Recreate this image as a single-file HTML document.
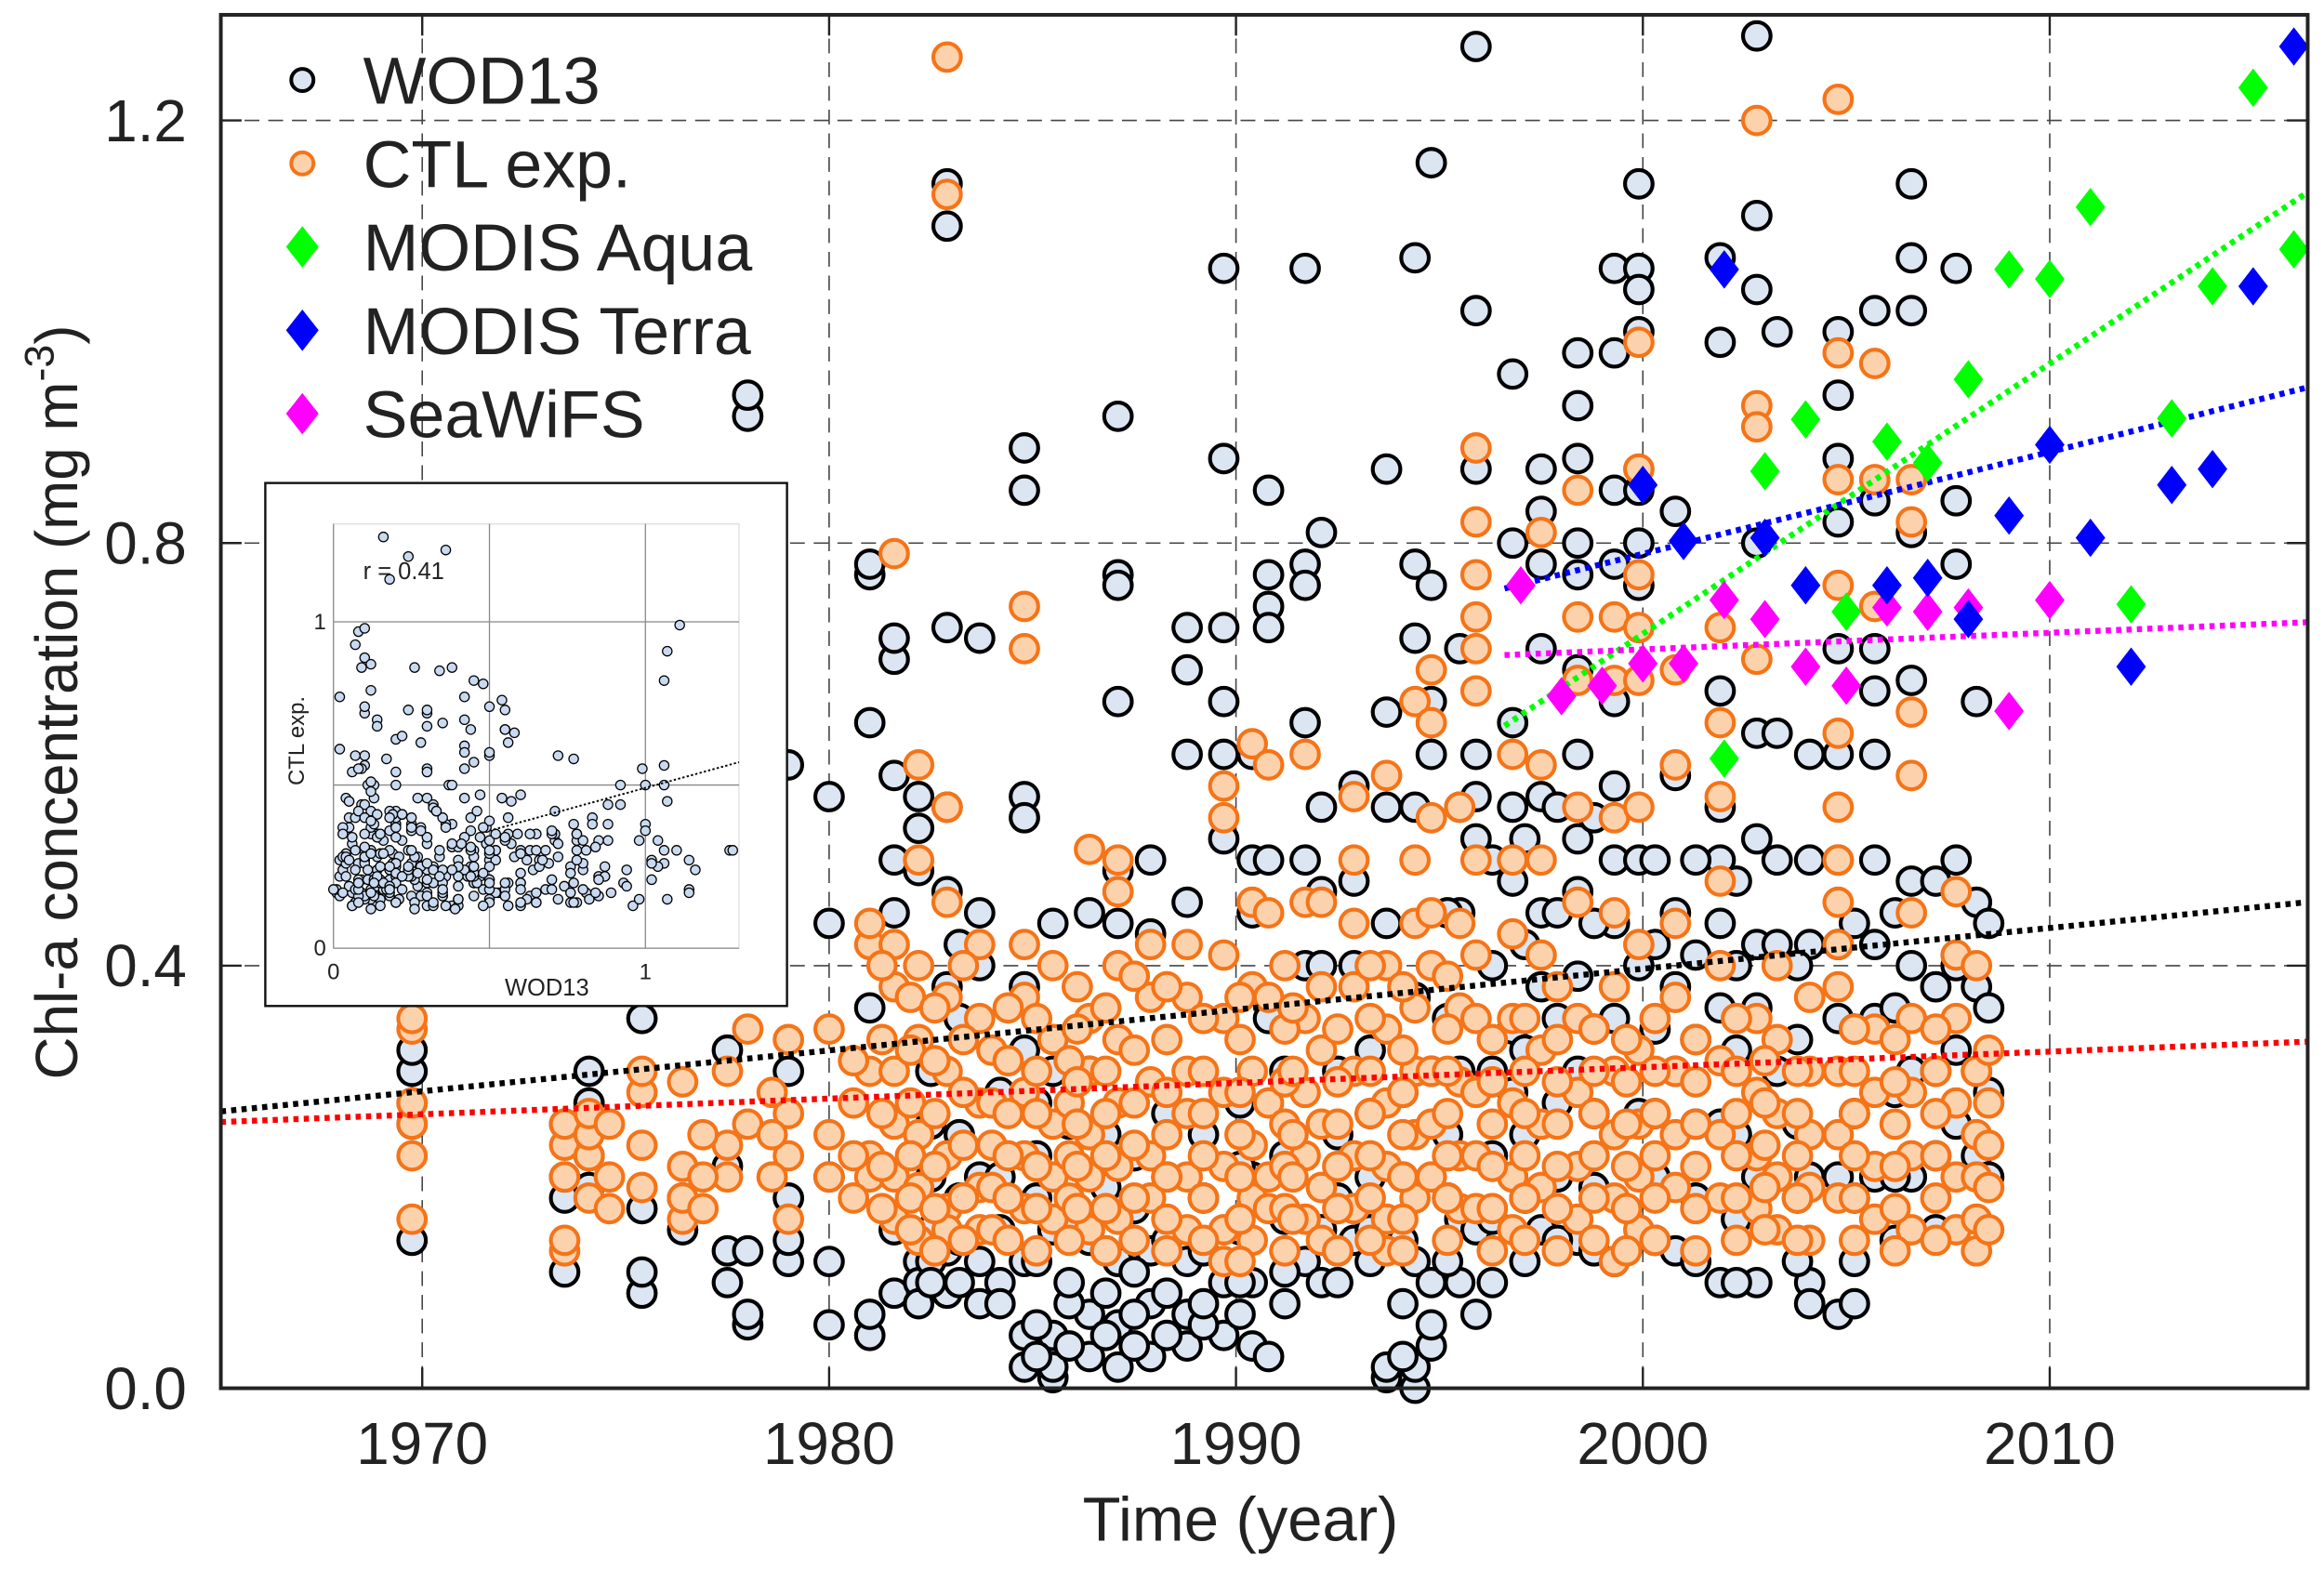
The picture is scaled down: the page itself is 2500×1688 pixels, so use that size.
<!DOCTYPE html>
<html><head><meta charset="utf-8"><style>
html,body{margin:0;padding:0;background:#fff}
svg{display:block}
text{font-family:"Liberation Sans",Arial,sans-serif;fill:#222}
</style></head><body>
<svg id="chart" width="2500" height="1688" viewBox="0 0 1568 1059" preserveAspectRatio="none" xmlns="http://www.w3.org/2000/svg">
<rect x="0" y="0" width="1568" height="1059" fill="#fff"/>
<g id="grid"></g>
<g id="marks"></g>
<g id="axes"></g>
<g id="legend"></g>
<g id="inset"></g>
</svg>
<script>
// ---------- data ----------
const xTicks = [1970, 1980, 1990, 2000, 2010];
const yTicks = [0.0, 0.4, 0.8, 1.2];
const yTickLabels = ["0.0", "0.4", "0.8", "1.2"];
// WOD13 observations: [year, values...]
const wodData = [
[1969.75,0.14,0.27,0.3,0.32,0.25],
[1973.5,0.11,0.18,0.2,0.25],
[1974.1,0.19,0.22,0.27,0.3],
[1975.4,0.09,0.11,0.17,0.35,0.38],
[1976.4,0.15,0.18],
[1977.5,0.1,0.13,0.21,0.32],
[1978.0,0.92,0.94,0.06,0.07,0.13],
[1979.0,0.59,0.12,0.14,0.18,0.3],
[1980.0,0.56,0.44,0.06,0.12,0.2],
[1981.0,0.77,0.78,0.63,0.36,0.05,0.07],
[1981.6,0.69,0.71,0.58,0.5,0.45,0.15,0.09],
[1982.2,0.56,0.53,0.49,0.12,0.1,0.08],
[1982.9,1.14,1.1,0.72,0.55,0.47,0.38,0.13,0.09],
[1983.7,0.71,0.45,0.4,0.2,0.12,0.08],
[1984.8,0.85,0.89,0.56,0.54,0.38,0.32,0.12,0.05,0.02],
[1985.5,0.44,0.3,0.15,0.05,0.01,0.02],
[1986.4,0.45,0.3,0.14,0.07,0.03],
[1987.1,0.92,0.77,0.76,0.65,0.49,0.44,0.12,0.06,0.02],
[1987.9,0.5,0.43,0.13,0.08,0.03],
[1988.8,0.72,0.68,0.6,0.46,0.12,0.07,0.04],
[1989.7,1.06,0.88,0.72,0.65,0.6,0.52,0.1,0.05],
[1990.4,0.6,0.5,0.45,0.2,0.1,0.04],
[1990.8,0.85,0.77,0.74,0.72,0.5,0.35,0.03],
[1991.7,1.06,0.78,0.76,0.63,0.5,0.4,0.12],
[1992.1,0.81,0.55,0.47,0.4,0.15,0.1],
[1992.9,0.57,0.48,0.4,0.14],
[1993.7,0.87,0.64,0.55,0.44,0.01,0.02],
[1994.4,1.07,0.78,0.71,0.55,0.37,0.12,0.0,0.02],
[1994.8,1.16,0.76,0.65,0.6,0.3,0.1,0.04,0.06],
[1995.5,0.7,0.55,0.45,0.3,0.16,0.1],
[1995.9,1.27,1.02,0.87,0.6,0.56,0.52,0.15,0.07],
[1996.8,0.96,0.8,0.63,0.55,0.48,0.34,0.28,0.2],
[1997.5,0.87,0.83,0.78,0.7,0.56,0.45,0.38,0.15],
[1998.4,0.98,0.93,0.88,0.8,0.77,0.68,0.6,0.52,0.47,0.39,0.3,0.14],
[1999.3,1.06,0.98,0.85,0.78,0.65,0.57,0.5,0.44,0.35,0.12],
[1999.9,1.14,1.06,1.04,1.0,0.85,0.8,0.76,0.5,0.4,0.26],
[2000.8,0.83,0.58,0.45,0.38,0.3,0.13],
[2001.9,1.07,0.99,0.66,0.55,0.5,0.44,0.36,0.25,0.1],
[2002.8,1.28,1.11,1.04,0.8,0.62,0.52,0.42,0.36,0.2,0.1],
[2003.3,1.0,0.62,0.5,0.42,0.3],
[2004.1,0.6,0.5,0.42,0.2,0.1,0.08],
[2004.8,1.0,0.94,0.88,0.82,0.7,0.6,0.5,0.42,0.35,0.2,0.07],
[2005.7,1.02,0.84,0.7,0.66,0.6,0.5,0.42,0.35,0.2],
[2006.6,1.14,1.07,1.02,0.81,0.67,0.48,0.4,0.3,0.2],
[2007.7,1.06,0.84,0.78,0.5,0.4,0.32,0.25],
[2008.2,0.65,0.46,0.38,0.3,0.22],
[1982.5,0.15,0.12,0.1,0.2,0.25,0.3],
[1983.2,0.14,0.1,0.18,0.24,0.35,0.42],
[1984.2,0.1,0.08,0.15,0.2,0.28],
[1985.1,0.06,0.03,0.12,0.18,0.22,0.27],
[1985.9,0.04,0.08,0.1,0.16,0.25],
[1986.8,0.05,0.09,0.13,0.19,0.24],
[1987.5,0.04,0.07,0.11,0.17,0.22],
[1988.3,0.05,0.09,0.14,0.2,0.26],
[1989.2,0.06,0.08,0.13,0.18,0.24],
[1990.1,0.07,0.1,0.15,0.21,0.27],
[1991.2,0.08,0.11,0.16,0.22,0.3],
[1992.5,0.1,0.13,0.18,0.24,0.3],
[1993.3,0.12,0.15,0.2,0.26,0.32],
[1994.1,0.03,0.08,0.14,0.2,0.28],
[1995.2,0.12,0.18,0.24,0.35,0.45],
[1996.3,0.1,0.16,0.22,0.3,0.4,0.5],
[1997.1,0.12,0.18,0.24,0.32,0.42,0.52],
[1997.9,0.14,0.2,0.27,0.35,0.45,0.55],
[1998.8,0.13,0.19,0.26,0.34,0.44,0.54],
[2000.3,0.14,0.2,0.26,0.34,0.42,0.5],
[2001.3,0.12,0.18,0.25,0.33,0.41,0.5],
[2002.3,0.1,0.16,0.24,0.32,0.4,0.48],
[2003.8,0.12,0.18,0.25,0.33,0.4],
[2005.2,0.08,0.12,0.18,0.26,0.34,0.44],
[2006.2,0.14,0.2,0.28,0.36,0.45],
[2007.2,0.15,0.22,0.3,0.38,0.48],
[2008.5,0.2,0.28,0.36,0.44]
];
// CTL experiment: [year, values...]
const ctlData = [
[1969.75,0.16,0.22,0.25,0.27,0.34,0.35],
[1973.5,0.13,0.14,0.2,0.23,0.25],
[1974.1,0.18,0.22,0.24,0.26],
[1975.4,0.19,0.23,0.28,0.3],
[1976.4,0.16,0.18,0.21,0.29],
[1977.5,0.2,0.23,0.3],
[1978.0,0.25,0.34],
[1979.0,0.16,0.22,0.26,0.33],
[1980.0,0.2,0.24,0.34],
[1981.0,0.22,0.3,0.42,0.44,0.2],
[1981.6,0.79,0.42,0.38,0.3,0.25,0.2,0.16],
[1982.2,0.59,0.5,0.4,0.33,0.24,0.19,0.14],
[1982.9,1.26,1.13,0.55,0.46,0.37,0.3,0.22,0.17,0.15],
[1983.7,0.42,0.35,0.27,0.19,0.15],
[1984.8,0.74,0.7,0.42,0.37,0.28,0.22,0.17],
[1985.5,0.4,0.33,0.25,0.2,0.16],
[1986.4,0.51,0.35,0.3,0.24,0.2,0.15],
[1987.1,0.5,0.47,0.4,0.33,0.27,0.21,0.16],
[1987.9,0.42,0.37,0.29,0.22,0.18],
[1988.8,0.42,0.37,0.3,0.26,0.2,0.15],
[1989.7,0.57,0.54,0.41,0.35,0.28,0.21,0.15,0.12],
[1990.4,0.61,0.46,0.38,0.3,0.23,0.18,0.14],
[1990.8,0.59,0.45,0.37,0.27,0.2,0.17],
[1991.7,0.6,0.46,0.35,0.28,0.22,0.16],
[1992.1,0.46,0.38,0.32,0.25,0.19,0.14],
[1992.9,0.56,0.5,0.44,0.38,0.3,0.22,0.17],
[1993.7,0.58,0.4,0.34,0.27,0.21,0.16,0.13],
[1994.4,0.65,0.5,0.44,0.36,0.3,0.24,0.18],
[1994.8,0.68,0.63,0.54,0.45,0.4,0.3,0.25,0.2],
[1995.5,0.55,0.44,0.36,0.29,0.22,0.17],
[1995.9,0.89,0.82,0.77,0.73,0.7,0.66,0.5,0.41,0.35,0.28,0.22,0.17],
[1996.8,0.6,0.5,0.43,0.35,0.27,0.2,0.15],
[1997.5,0.81,0.59,0.5,0.41,0.32,0.25,0.19],
[1998.4,0.85,0.73,0.67,0.55,0.46,0.35,0.28,0.21,0.16],
[1999.3,0.73,0.67,0.54,0.45,0.38,0.3,0.24,0.18,0.12],
[1999.9,0.99,0.87,0.77,0.72,0.67,0.55,0.42,0.32,0.25,0.2,0.15],
[2000.8,0.68,0.59,0.44,0.37,0.3,0.24,0.19],
[2001.9,0.72,0.63,0.56,0.48,0.4,0.31,0.24,0.18],
[2002.8,1.2,0.93,0.91,0.69,0.35,0.28,0.22,0.17],
[2003.3,0.4,0.33,0.26,0.2,0.15],
[2004.1,0.37,0.3,0.24,0.19,0.14],
[2004.8,1.22,0.98,0.86,0.76,0.62,0.55,0.5,0.46,0.42,0.38,0.3,0.24,0.18],
[2005.7,0.97,0.86,0.74,0.34,0.28,0.21,0.16],
[2006.6,0.86,0.82,0.64,0.58,0.45,0.35,0.28,0.22,0.15],
[2007.7,0.47,0.41,0.35,0.27,0.2,0.15],
[2008.2,0.4,0.3,0.24,0.2,0.16,0.13],
[1974.6,0.17,0.2,0.25],
[1976.9,0.17,0.2,0.24],
[1978.6,0.2,0.24,0.28],
[1980.6,0.18,0.22,0.27,0.31],
[1981.3,0.17,0.21,0.26,0.33,0.4],
[1982.0,0.15,0.18,0.22,0.27,0.32,0.37],
[1982.6,0.13,0.17,0.21,0.26,0.31,0.36],
[1983.3,0.14,0.18,0.23,0.28,0.33,0.4],
[1984.0,0.15,0.19,0.23,0.27,0.32],
[1984.4,0.14,0.18,0.22,0.26,0.31,0.36],
[1985.1,0.13,0.17,0.21,0.26,0.3,0.35],
[1985.9,0.14,0.18,0.22,0.27,0.31],
[1986.1,0.17,0.21,0.25,0.29,0.34,0.38],
[1986.8,0.13,0.17,0.22,0.26,0.3,0.36],
[1987.5,0.14,0.18,0.23,0.27,0.32,0.39],
[1988.3,0.13,0.16,0.2,0.24,0.28,0.33,0.38],
[1989.2,0.14,0.18,0.22,0.26,0.3,0.35],
[1990.1,0.12,0.16,0.2,0.24,0.28,0.33,0.37],
[1991.2,0.13,0.17,0.21,0.25,0.29,0.34,0.4],
[1991.4,0.16,0.2,0.24,0.3,0.36],
[1992.5,0.13,0.17,0.21,0.25,0.29,0.34],
[1993.3,0.14,0.18,0.22,0.26,0.3,0.35,0.4],
[1994.1,0.13,0.16,0.2,0.24,0.28,0.32,0.38],
[1995.2,0.14,0.18,0.22,0.26,0.3,0.34,0.39],
[1996.3,0.13,0.17,0.21,0.25,0.29,0.33],
[1997.1,0.14,0.18,0.22,0.26,0.3,0.35],
[1997.9,0.13,0.17,0.21,0.25,0.29,0.33,0.38],
[1998.8,0.14,0.18,0.22,0.26,0.3,0.34],
[1999.6,0.13,0.17,0.21,0.25,0.29,0.33],
[2000.3,0.14,0.18,0.22,0.26,0.3,0.35],
[2001.3,0.13,0.17,0.21,0.25,0.29,0.33],
[2002.3,0.14,0.18,0.22,0.26,0.3,0.35],
[2003.0,0.15,0.19,0.23,0.27,0.31],
[2003.8,0.14,0.18,0.22,0.26,0.3],
[2005.2,0.14,0.18,0.22,0.26,0.3,0.34],
[2006.2,0.13,0.17,0.21,0.25,0.29,0.33],
[2007.2,0.14,0.18,0.22,0.26,0.3,0.34],
[2008.5,0.15,0.19,0.23,0.27,0.32]
];
const aquaYears = [2002,2003,2004,2005,2006,2007,2008,2009,2010,2011,2012,2013,2014,2015,2016];
const aquaVals  = [0.596,0.868,0.917,0.735,0.896,0.876,0.955,1.059,1.05,1.118,0.742,0.918,1.043,1.231,1.078];
const terraYears = [2000,2001,2002,2003,2004,2006,2007,2008,2009,2010,2011,2012,2013,2014,2015,2016];
const terraVals  = [0.855,0.802,1.059,0.805,0.76,0.76,0.767,0.728,0.826,0.893,0.805,0.683,0.855,0.87,1.043,1.27];
const seaYears = [1997,1998,1999,2000,2001,2002,2003,2004,2005,2006,2007,2008,2009,2010];
const seaVals  = [0.76,0.655,0.665,0.686,0.686,0.746,0.728,0.683,0.665,0.739,0.735,0.739,0.641,0.746];
// trend lines: [startYear, startVal, endYear, endVal]
const trendWod   = [1965.05,0.262,2016.3,0.46];
const trendCtl   = [1965.05,0.252,2016.3,0.328];
const trendAqua  = [1996.6,0.627,2016.3,1.131];
const trendTerra = [1996.6,0.757,2016.3,0.947];
const trendSea   = [1996.6,0.694,2016.3,0.725];
const insetTrend = [0.5,0.36,1.3,0.57];
const insetR = "r = 0.41";

// ---------- scales ----------
const NS="http://www.w3.org/2000/svg";
const L=149,R=1557,T=10,B=937;
const XMIN=1965.05,XMAX=2016.34,YMIN=0,YMAX=1.3;
const sx=v=>L+(v-XMIN)/(XMAX-XMIN)*(R-L);
const sy=v=>B-(v-YMIN)/(YMAX-YMIN)*(B-T);
function mk(tag,attrs,parent){const e=document.createElementNS(NS,tag);for(const k in attrs)e.setAttribute(k,attrs[k]);parent.appendChild(e);return e;}
const grid=document.getElementById('grid'),marks=document.getElementById('marks'),axes=document.getElementById('axes'),legend=document.getElementById('legend'),inset=document.getElementById('inset');

xTicks.forEach(t=>{const l=mk('line',{x1:sx(t),x2:sx(t),y1:T,y2:B,stroke:'#444','stroke-width':1,'stroke-dasharray':'10,6'},grid);

});
yTicks.forEach(t=>{if(t===0)return;const l=mk('line',{x1:L,x2:R,y1:sy(t),y2:sy(t),stroke:'#444','stroke-width':1,'stroke-dasharray':'10,6'},grid);

});

function circles(data,fill,stroke,name){
 const g=mk('g',{},marks);
 
 
 data.forEach(row=>{for(let i=1;i<row.length;i++){
  const c=mk('circle',{cx:sx(row[0]),cy:sy(row[i]),r:9.3,fill:fill,stroke:stroke,'stroke-width':2.6},g);
  
  
 }});
}
circles(wodData,'#dce5f2','#000','wod13');
circles(ctlData,'#fcd2ac','#f57418','ctl-exp');

function trend(t,color,name){
 const l=mk('line',{x1:sx(t[0]),y1:sy(t[1]),x2:sx(t[2]),y2:sy(t[3]),stroke:color,'stroke-width':4,'stroke-dasharray':'3.5,3.5'},marks);
 
 
}
trend(trendWod,'#000','wod13-trend-line');
trend(trendCtl,'#ff0000','ctl-trend-line');
trend(trendAqua,'#00ff00','modis-aqua-trend-line');
trend(trendTerra,'#0000ff','modis-terra-trend-line');
trend(trendSea,'#ff00ff','seawifs-trend-line');

function diamonds(years,vals,color,name){
 const g=mk('g',{},marks);
 
 
 years.forEach((y,i)=>{const x=sx(y),v=sy(vals[i]);
  const p=mk('polygon',{points:`${x},${v-13} ${x+10},${v} ${x},${v+13} ${x-10},${v}`,fill:color},g);
  
  });
}
diamonds(seaYears,seaVals,'#ff00ff','seawifs');
diamonds(aquaYears,aquaVals,'#00ff00','modis-aqua');
diamonds(terraYears,terraVals,'#0000ff','modis-terra');

const fr=mk('rect',{x:L,y:T,width:R-L,height:B-T,fill:'none',stroke:'#222','stroke-width':2.5},axes);


xTicks.forEach(t=>{
 mk('line',{x1:sx(t),x2:sx(t),y1:B,y2:B-14,stroke:'#222','stroke-width':1.5},axes);
 mk('line',{x1:sx(t),x2:sx(t),y1:T,y2:T+14,stroke:'#222','stroke-width':1.5},axes);
 const tx=mk('text',{x:sx(t),y:988,'font-size':40,'text-anchor':'middle'},axes);tx.textContent=t;
 
 
});
yTicks.forEach((t,i)=>{
 mk('line',{x1:L,x2:L+14,y1:sy(t),y2:sy(t),stroke:'#222','stroke-width':1.5},axes);
 mk('line',{x1:R,x2:R-14,y1:sy(t),y2:sy(t),stroke:'#222','stroke-width':1.5},axes);
 const tx=mk('text',{x:126,y:sy(t)+14,'font-size':40,'text-anchor':'end'},axes);tx.textContent=yTickLabels[i];
 
 
});
const xt=mk('text',{x:837,y:1040,'font-size':42,'text-anchor':'middle'},axes);xt.textContent='Time (year)';


const yt=mk('text',{x:0,y:0,'font-size':40,'text-anchor':'middle',transform:'translate(52,474) rotate(-90)'},axes);
yt.innerHTML='Chl-a concentration (mg m<tspan dy="-16" font-size="28">-3</tspan><tspan dy="16">)</tspan>';



const legItems=[['WOD13','circle','#dce5f2','#000'],['CTL exp.','circle','#fcd2ac','#f57418'],['MODIS Aqua','diamond','#00ff00'],['MODIS Terra','diamond','#0000ff'],['SeaWiFS','diamond','#ff00ff']];
legItems.forEach((it,i)=>{
 const y=54+i*56.3;
 const g=mk('g',{},legend);
 
 
 if(it[1]==='circle')mk('circle',{cx:204,cy:y,r:7.5,fill:it[2],stroke:it[3],'stroke-width':2.5},g);
 else mk('polygon',{points:`204,${y-14} 215,${y} 204,${y+14} 193,${y}`,fill:it[2]},g);
 const t=mk('text',{x:245,y:y+16,'font-size':45,fill:'#000'},g);t.textContent=it[0];
});

// inset
const IL=225,IR=498.6,IT=353.6,IB=640,IMAX=1.3;
const ix=v=>IL+v/IMAX*(IR-IL), iy=v=>IB-v/IMAX*(IB-IT);
const ib=mk('rect',{x:179,y:326,width:352,height:353,fill:'#fff',stroke:'#111','stroke-width':1.5},inset);


mk('rect',{x:IL,y:IT,width:IR-IL,height:IB-IT,fill:'none',stroke:'#ddd','stroke-width':0.8},inset);
[0.5,1].forEach(v=>{
 mk('line',{x1:ix(v),x2:ix(v),y1:IT,y2:IB,stroke:'#888','stroke-width':0.8},inset);
 mk('line',{x1:IL,x2:IR,y1:iy(v),y2:iy(v),stroke:'#888','stroke-width':0.8},inset);
});
mk('line',{x1:IL,x2:IL,y1:IT,y2:IB,stroke:'#888','stroke-width':0.8},inset);
mk('line',{x1:IL,x2:IR,y1:IB,y2:IB,stroke:'#888','stroke-width':0.8},inset);
const wodFlat=[],ctlFlat=[];
wodData.forEach(r=>r.slice(1).forEach(v=>wodFlat.push(v)));
ctlData.forEach(r=>r.slice(1).forEach(v=>ctlFlat.push(v)));
const n=Math.min(wodFlat.length,ctlFlat.length);
for(let i=0;i<n;i++){
 const j=(i*101)%n;
 const c=mk('circle',{cx:ix(wodFlat[i]),cy:iy(ctlFlat[j]),r:3.2,fill:'#c9daf0',stroke:'#000','stroke-width':0.8},inset);
 
 
}
mk('line',{x1:ix(insetTrend[0]),y1:iy(insetTrend[1]),x2:ix(insetTrend[2]),y2:iy(insetTrend[3]),stroke:'#000','stroke-width':1.2,'stroke-dasharray':'1.5,1.5'},inset);
function itext(x,y,s,txt,anchor,name,extra){const t=mk('text',Object.assign({x:x,y:y,'font-size':s,'text-anchor':anchor,fill:'#000'},extra||{}),inset);t.textContent=txt;
 
 }
itext(245,391,16,insetR,'start','inset-r-label');
itext(ix(0),661,15,'0','middle','inset-x-tick');
itext(ix(1),661,15,'1','middle','inset-x-tick');
itext(220,iy(0)+5,15,'0','end','inset-y-tick');
itext(220,iy(1)+5,15,'1','end','inset-y-tick');
itext(369,672,16,'WOD13','middle','inset-x-title');
itext(0,0,15,'CTL exp.','middle','inset-y-title',{transform:'translate(205,500) rotate(-90)'});
</script>
</body></html>
